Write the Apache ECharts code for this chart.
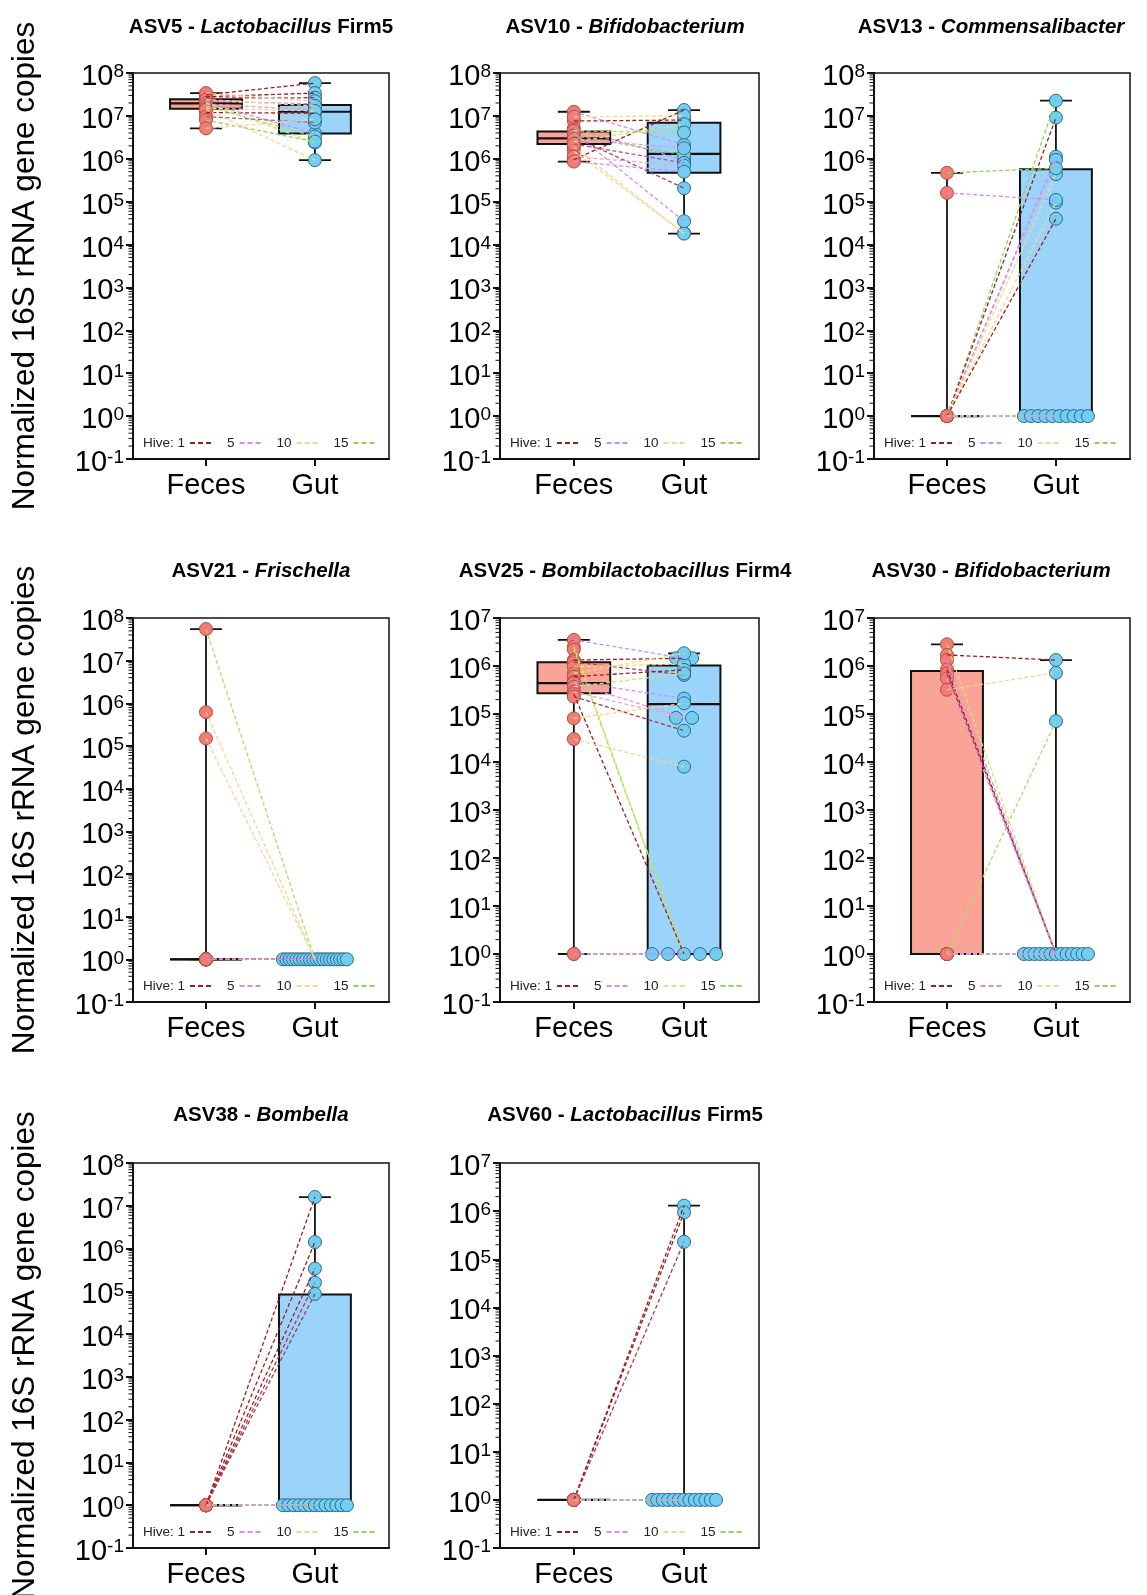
<!DOCTYPE html>
<html><head><meta charset="utf-8">
<script src="https://cdn.jsdelivr.net/npm/echarts@6/dist/echarts.min.js"></script>
<style>html,body{margin:0;padding:0;background:#fff}#c{width:1147px;height:1595px}</style>
</head><body><div id="c"></div>
<script>
// ---------------- data ----------------
const groups = ['Feces', 'Gut'];
const hiveTicks = ['1', '5', '10', '15'];
const yTitle = 'Normalized 16S rRNA gene copies';

// box stats: [min, Q1, median, Q3, max]
const asv5Feces = [3.1e7, 2.8e7, 2.6e7, 1.2e7, 2.2e7, 2.0e7, 1.9e7, 3.4e7, 2.4e7, 2.0e7, 1.7e7, 1.5e7, 1.4e7, 9.6e6, 8.0e6, 5.1e6];
const asv5Gut   = [5.8e7, 3.4e7, 2.65e7, 1.15e7, 1.9e7, 3.9e6, 1.37e7, 2.2e7, 1.7e7, 2.4e6, 3.3e6, 1.3e7, 9.3e5, 7.0e6, 2.5e6, 8.3e6];
const asv5Hive  = [1, 1, 2, 1, 5, 5, 6, 9, 12, 13, 14, 10, 10, 3, 15, 10];
const asv5FecesBox = [5.1e6, 1.47e7, 1.96e7, 2.44e7, 3.4e7];
const asv5GutBox   = [9.3e5, 3.9e6, 1.25e7, 1.8e7, 5.8e7];

const asv10Feces = [9.5e5, 7.6e6, 3.27e6, 1.5e6, 1.9e6, 1.25e7, 5.1e6, 4.06e6, 9.5e6, 2.5e6, 4.5e6, 3.5e6, 2.9e6, 2.2e6, 1.12e6, 8.6e5];
const asv10Gut   = [1.37e7, 8.0e6, 2.06e5, 1.85e4, 1.8e4, 2.1e6, 9.4e5, 3.5e4, 1.01e7, 6.4e6, 4.1e6, 1.23e6, 1.76e6, 8.0e5, 6.9e5, 5.0e5];
const asv10Hive  = [1, 1, 2, 10, 10, 5, 5, 5, 12, 13, 14, 15, 6, 3, 7, 5];
const asv10FecesBox = [8.6e5, 2.2e6, 3.0e6, 4.3e6, 1.25e7];
const asv10GutBox   = [1.8e4, 4.7e5, 1.3e6, 6.95e6, 1.37e7];

const asv13Feces = [1, 1, 1, 1, 1, 1, 1, 4.7e5, 1.6e5, 1, 1, 1, 1, 1, 1, 1, 1, 1, 1];
const asv13Gut   = [2.26e7, 9.1e6, 1.12e6, 9.4e5, 4.4e5, 9.5e4, 4e4, 6e5, 1.1e5, 1, 1, 1, 1, 1, 1, 1, 1, 1, 1];
const asv13Hive  = [15, 1, 5, 6, 10, 11, 1, 15, 5, 2, 3, 4, 7, 8, 9, 12, 13, 14, 5];
const asv13FecesBox = [1, 1, 1, 1, 4.7e5];
const asv13GutBox   = [1, 1, 1, 5.7e5, 2.26e7];

const asv21Feces = [5.5e7, 6.2e5, 1.5e5, 1, 1, 1, 1, 1, 1, 1, 1, 1, 1, 1, 1, 1, 1, 1, 1, 1];
const asv21Gut   = [1, 1, 1, 1, 1, 1, 1, 1, 1, 1, 1, 1, 1, 1, 1, 1, 1, 1, 1, 1];
const asv21Hive  = [14, 10, 10, 1, 1, 2, 3, 4, 6, 7, 8, 9, 11, 12, 13, 15, 3, 1, 4, 5];
const asv21FecesBox = [1, 1, 1, 1, 5.5e7];
const asv21GutBox   = [1, 1, 1, 1, 1];

const asv25Feces = [3.5e6, 2.5e6, 2.2e6, 1.33e6, 1.2e6, 9.7e5, 7.0e5, 6.0e5, 4.7e5, 4.4e5, 3.7e5, 2.9e5, 2.6e5, 2.3e5, 8.1e4, 3.0e4, 1, 1];
const asv25Gut   = [1.45e6, 1, 1, 1.45e6, 6.5e5, 1.1e6, 1.84e6, 8.3e5, 2.1e5, 8.3e4, 7.0e5, 8.3e4, 1, 4.5e4, 1.67e5, 8.0e3, 1, 1];
const asv25Hive  = [5, 13, 14, 1, 2, 12, 11, 1, 5, 6, 13, 7, 1, 2, 10, 10, 4, 5];
const asv25FecesBox = [1, 2.7e5, 4.4e5, 1.2e6, 3.5e6];
const asv25GutBox   = [1, 1, 1.6e5, 1.02e6, 1.84e6];

const asv30Feces = [2.83e6, 1.7e6, 1.33e6, 8.5e5, 7.0e5, 5.5e5, 3.2e5, 1, 1, 1, 1, 1, 1, 1, 1, 1];
const asv30Gut   = [1, 1.33e6, 1, 1, 1, 1, 7.2e5, 7.1e4, 1, 1, 1, 1, 1, 1, 1, 1];
const asv30Hive  = [13, 1, 5, 1, 2, 6, 10, 14, 3, 4, 7, 8, 9, 11, 15, 5];
const asv30FecesBox = [1, 1, 1, 7.9e5, 2.83e6];
const asv30GutBox   = [1, 1, 1, 1, 1.33e6];

const asv38Feces = [1, 1, 1, 1, 1, 1, 1, 1, 1, 1, 1, 1, 1, 1, 1, 1, 1, 1];
const asv38Gut   = [1.6e7, 1.42e6, 3.4e5, 1.6e5, 8.7e4, 1, 1, 1, 1, 1, 1, 1, 1, 1, 1, 1, 1, 1];
const asv38Hive  = [1, 1, 1, 2, 2, 3, 4, 6, 7, 8, 9, 10, 11, 12, 13, 14, 15, 5];
const asv38FecesBox = [1, 1, 1, 1, 1];
const asv38GutBox   = [1, 1, 1, 8.4e4, 1.6e7];

const asv60Feces = [1, 1, 1, 1, 1, 1, 1, 1, 1, 1, 1, 1, 1, 1, 1, 1];
const asv60Gut   = [1.3e6, 9.4e5, 2.3e5, 1, 1, 1, 1, 1, 1, 1, 1, 1, 1, 1, 1, 1];
const asv60Hive  = [1, 1, 2, 3, 4, 6, 7, 8, 9, 10, 11, 12, 13, 14, 15, 5];
const asv60FecesBox = [1, 1, 1, 1, 1];
const asv60GutBox   = [1, 1, 1, 1, 1.3e6];

const panels = [
  {t: ['ASV5', 'Lactobacillus', 'Firm5'], f: asv5Feces, g: asv5Gut, h: asv5Hive, fb: asv5FecesBox, gb: asv5GutBox, yMax: 1e8},
  {t: ['ASV10', 'Bifidobacterium', ''], f: asv10Feces, g: asv10Gut, h: asv10Hive, fb: asv10FecesBox, gb: asv10GutBox, yMax: 1e8},
  {t: ['ASV13', 'Commensalibacter', ''], f: asv13Feces, g: asv13Gut, h: asv13Hive, fb: asv13FecesBox, gb: asv13GutBox, yMax: 1e8},
  {t: ['ASV21', 'Frischella', ''], f: asv21Feces, g: asv21Gut, h: asv21Hive, fb: asv21FecesBox, gb: asv21GutBox, yMax: 1e8},
  {t: ['ASV25', 'Bombilactobacillus', 'Firm4'], f: asv25Feces, g: asv25Gut, h: asv25Hive, fb: asv25FecesBox, gb: asv25GutBox, yMax: 1e7},
  {t: ['ASV30', 'Bifidobacterium', ''], f: asv30Feces, g: asv30Gut, h: asv30Hive, fb: asv30FecesBox, gb: asv30GutBox, yMax: 1e7},
  {t: ['ASV38', 'Bombella', ''], f: asv38Feces, g: asv38Gut, h: asv38Hive, fb: asv38FecesBox, gb: asv38GutBox, yMax: 1e8},
  {t: ['ASV60', 'Lactobacillus', 'Firm5'], f: asv60Feces, g: asv60Gut, h: asv60Hive, fb: asv60FecesBox, gb: asv60GutBox, yMax: 1e7}
];

// ---------------- layout & style ----------------
const FONT = '"Liberation Sans", Arial, Helvetica, sans-serif';
const colLeft = [133, 500, 874], colWidth = [256, 259, 256];
const rowTop = [73, 618, 1163], rowHeight = [386, 384, 385];
const titleX = [256, 620, 986], titleTop = [12, 556, 1100];
const X_MIN = -0.67, X_MAX = 1.68;
const BOX_HALF = 0.33, CAP_HALF = 16; // box half width in x units, cap half width px
const fecesBoxFill = '#f9a496', gutBoxFill = '#9ad4fb';
const fecesPt = '#f47b72', fecesPtBorder = '#a9524b';
const gutPt = '#72cdf3', gutPtBorder = '#2d6a85';
const DASH_ICON = 'path://M0,0H5V2H0Z M8,0H13V2H8Z M16,0H21V2H16Z';

const hiveAnchors = [[1, [158, 30, 28]], [5, [215, 138, 246]], [10, [252, 211, 140]], [12.5, [220, 236, 105]], [15, [140, 214, 88]]];
function hiveColor(h) {
  for (let k = 0; k < hiveAnchors.length - 1; k++) {
    const [a, ca] = hiveAnchors[k], [b, cb] = hiveAnchors[k + 1];
    if (h <= b) {
      const t = Math.max(0, (h - a) / (b - a));
      return 'rgb(' + ca.map((v, j) => Math.round(v + (cb[j] - v) * t)).join(',') + ')';
    }
  }
  return 'rgb(' + hiveAnchors[hiveAnchors.length - 1][1].join(',') + ')';
}

// spread tied values horizontally around the Gut column
function gutX(values, pxPerUnit) {
  const counts = {}, seen = {};
  values.forEach(v => counts[v] = (counts[v] || 0) + 1);
  return values.map(v => {
    const n = counts[v];
    const k = seen[v] = (seen[v] === undefined ? 0 : seen[v] + 1);
    if (n === 1) return 1;
    const step = Math.min(16, 64 / (n - 1));
    return 1 + (k - (n - 1) / 2) * step / pxPerUnit;
  });
}

// log minor tick positions (2..9 x 10^k) inside the axis range
function minorTickValues(yMax) {
  const out = [];
  for (let k = -1; k < Math.round(Math.log10(yMax)); k++)
    for (let m = 2; m <= 9; m++) out.push([m * Math.pow(10, k)]);
  return out;
}

function boxRender(params, api) {
  const x = api.value(0);
  const v = [1, 2, 3, 4, 5].map(k => api.value(k));
  const L = api.coord([x - BOX_HALF, v[1]])[0], R = api.coord([x + BOX_HALF, v[1]])[0];
  const cx = api.coord([x, v[0]])[0];
  const yMin = api.coord([x, v[0]])[1], yQ1 = api.coord([x, v[1]])[1], yMed = api.coord([x, v[2]])[1];
  const yQ3 = api.coord([x, v[3]])[1], yMax = api.coord([x, v[4]])[1];
  const fill = params.dataIndex === 0 ? fecesBoxFill : gutBoxFill;
  const ln = (x1, y1, x2, y2, w) => ({type: 'line', shape: {x1, y1, x2, y2}, style: {stroke: '#111', lineWidth: w}});
  return {type: 'group', children: [
    ln(cx, yQ3, cx, yMax, 1.8), ln(cx, yQ1, cx, yMin, 1.8),
    ln(cx - CAP_HALF, yMax, cx + CAP_HALF, yMax, 1.8), ln(cx - CAP_HALF, yMin, cx + CAP_HALF, yMin, 1.8),
    {type: 'rect', shape: {x: L, y: yQ3, width: R - L, height: yQ1 - yQ3}, style: {fill, stroke: '#111', lineWidth: 2}},
    ln(L, yMed, R, yMed, 2.2)
  ]};
}

function pairRender(params, api) {
  const p0 = api.coord([api.value(0), api.value(1)]);
  const p1 = api.coord([api.value(2), api.value(3)]);
  return {type: 'line', shape: {x1: p0[0], y1: p0[1], x2: p1[0], y2: p1[1]},
    style: {stroke: hiveColor(api.value(4)), lineWidth: 1.3, lineDash: [4, 2.5]}};
}

function minorTickRender(params, api) {
  const p = api.coord([X_MIN, api.value(0)]);
  return {type: 'line', shape: {x1: p[0] - 4.5, y1: p[1], x2: p[0], y2: p[1]}, style: {stroke: '#111', lineWidth: 1}};
}

const supDigits = e => (e < 0 ? '-' + (-e) : '' + e);

const option = {animation: false, backgroundColor: '#fff', textStyle: {fontFamily: FONT},
  grid: [], xAxis: [], yAxis: [], title: [], legend: [], series: []};

// legend-only series
hiveTicks.forEach(h => option.series.push({
  type: 'line', name: h, data: [], xAxisIndex: 0, yAxisIndex: 0, symbol: 'none',
  itemStyle: {color: hiveColor(+h)}, lineStyle: {color: hiveColor(+h), width: 2, type: [4, 3]}
}));

panels.forEach((p, i) => {
  const r = Math.floor(i / 3), c = i % 3;
  const pxPerUnit = colWidth[c] / (X_MAX - X_MIN);
  option.grid.push({left: colLeft[c], top: rowTop[r], width: colWidth[c], height: rowHeight[r],
    outerBoundsMode: 'none', containLabel: false,
    show: true, borderColor: '#111', borderWidth: 1.5, backgroundColor: 'transparent'});
  option.xAxis.push({gridIndex: i, type: 'value', min: X_MIN, max: X_MAX,
    axisLine: {show: true, onZero: false, lineStyle: {color: '#111', width: 2}},
    axisTick: {show: true, customValues: [0, 1], length: 7, lineStyle: {color: '#111', width: 2}},
    axisLabel: {show: true, customValues: [0, 1], formatter: v => groups[Math.round(v)], margin: 12,
      fontSize: 29, color: '#000', fontFamily: FONT},
    splitLine: {show: false}});
  option.yAxis.push({gridIndex: i, type: 'log', logBase: 10, min: 0.1, max: p.yMax, interval: 1,
    name: c === 0 ? yTitle : '', nameLocation: 'middle', nameGap: 92,
    nameTextStyle: {fontSize: 31.5, color: '#000', fontFamily: FONT},
    axisLine: {show: true, onZero: false, lineStyle: {color: '#111', width: 2}},
    axisTick: {show: true, length: 7, lineStyle: {color: '#111', width: 2}},
    minorTick: {show: false}, splitLine: {show: false}, minorSplitLine: {show: false},
    axisLabel: {margin: 9, padding: [8, 0, 0, 0],
      formatter: v => '{b|10}{s|' + supDigits(Math.round(Math.log10(v))) + '}',
      rich: {b: {fontSize: 29, color: '#000', fontFamily: FONT, verticalAlign: 'bottom'},
             s: {fontSize: 19, color: '#000', fontFamily: FONT, verticalAlign: 'top'}}}});
  option.title.push({text: '{b|' + p.t[0] + ' - }{i|' + p.t[1] + '}' + (p.t[2] ? '{b| ' + p.t[2] + '}' : ''),
    left: titleX[c], top: titleTop[r], textAlign: 'center',
    textStyle: {rich: {b: {fontSize: 20.5, fontWeight: 'bold', color: '#000', fontFamily: FONT},
                       i: {fontSize: 20.5, fontWeight: 'bold', fontStyle: 'italic', color: '#000', fontFamily: FONT}}}});
  option.legend.push({data: hiveTicks, left: colLeft[c] + 10, top: rowTop[r] + rowHeight[r] - 23,
    orient: 'horizontal', align: 'right', icon: DASH_ICON, itemWidth: 21, itemHeight: 2.2, itemGap: 16,
    selectedMode: false, padding: 0, formatter: n => (n === '1' ? 'Hive: 1' : n),
    textStyle: {fontSize: 13.5, color: '#222', fontFamily: FONT}});

  option.series.push({type: 'custom', xAxisIndex: i, yAxisIndex: i, z: 1, clip: false, silent: true,
    renderItem: minorTickRender, data: minorTickValues(p.yMax), encode: {y: 0}});
  option.series.push({type: 'custom', xAxisIndex: i, yAxisIndex: i, z: 2, clip: false,
    renderItem: boxRender, data: [[0].concat(p.fb), [1].concat(p.gb)], silent: true});
  option.series.push({type: 'scatter', xAxisIndex: i, yAxisIndex: i, z: 3, symbolSize: 13,
    itemStyle: {color: fecesPt, borderColor: fecesPtBorder, borderWidth: 1, opacity: 1},
    data: p.f.map(v => [0, v]), silent: true});
  const gx = gutX(p.g, pxPerUnit);
  option.series.push({type: 'scatter', xAxisIndex: i, yAxisIndex: i, z: 3, symbolSize: 13,
    itemStyle: {color: gutPt, borderColor: gutPtBorder, borderWidth: 1, opacity: 1},
    data: p.g.map((v, j) => [gx[j], v]), silent: true});
  option.series.push({type: 'custom', xAxisIndex: i, yAxisIndex: i, z: 4, clip: false,
    renderItem: pairRender, data: p.f.map((v, j) => [0, v, 1, p.g[j], p.h[j]]), silent: true});
});

const chart = echarts.init(document.getElementById('c'), null, {renderer: 'canvas'});
chart.setOption(option);
</script></body></html>
